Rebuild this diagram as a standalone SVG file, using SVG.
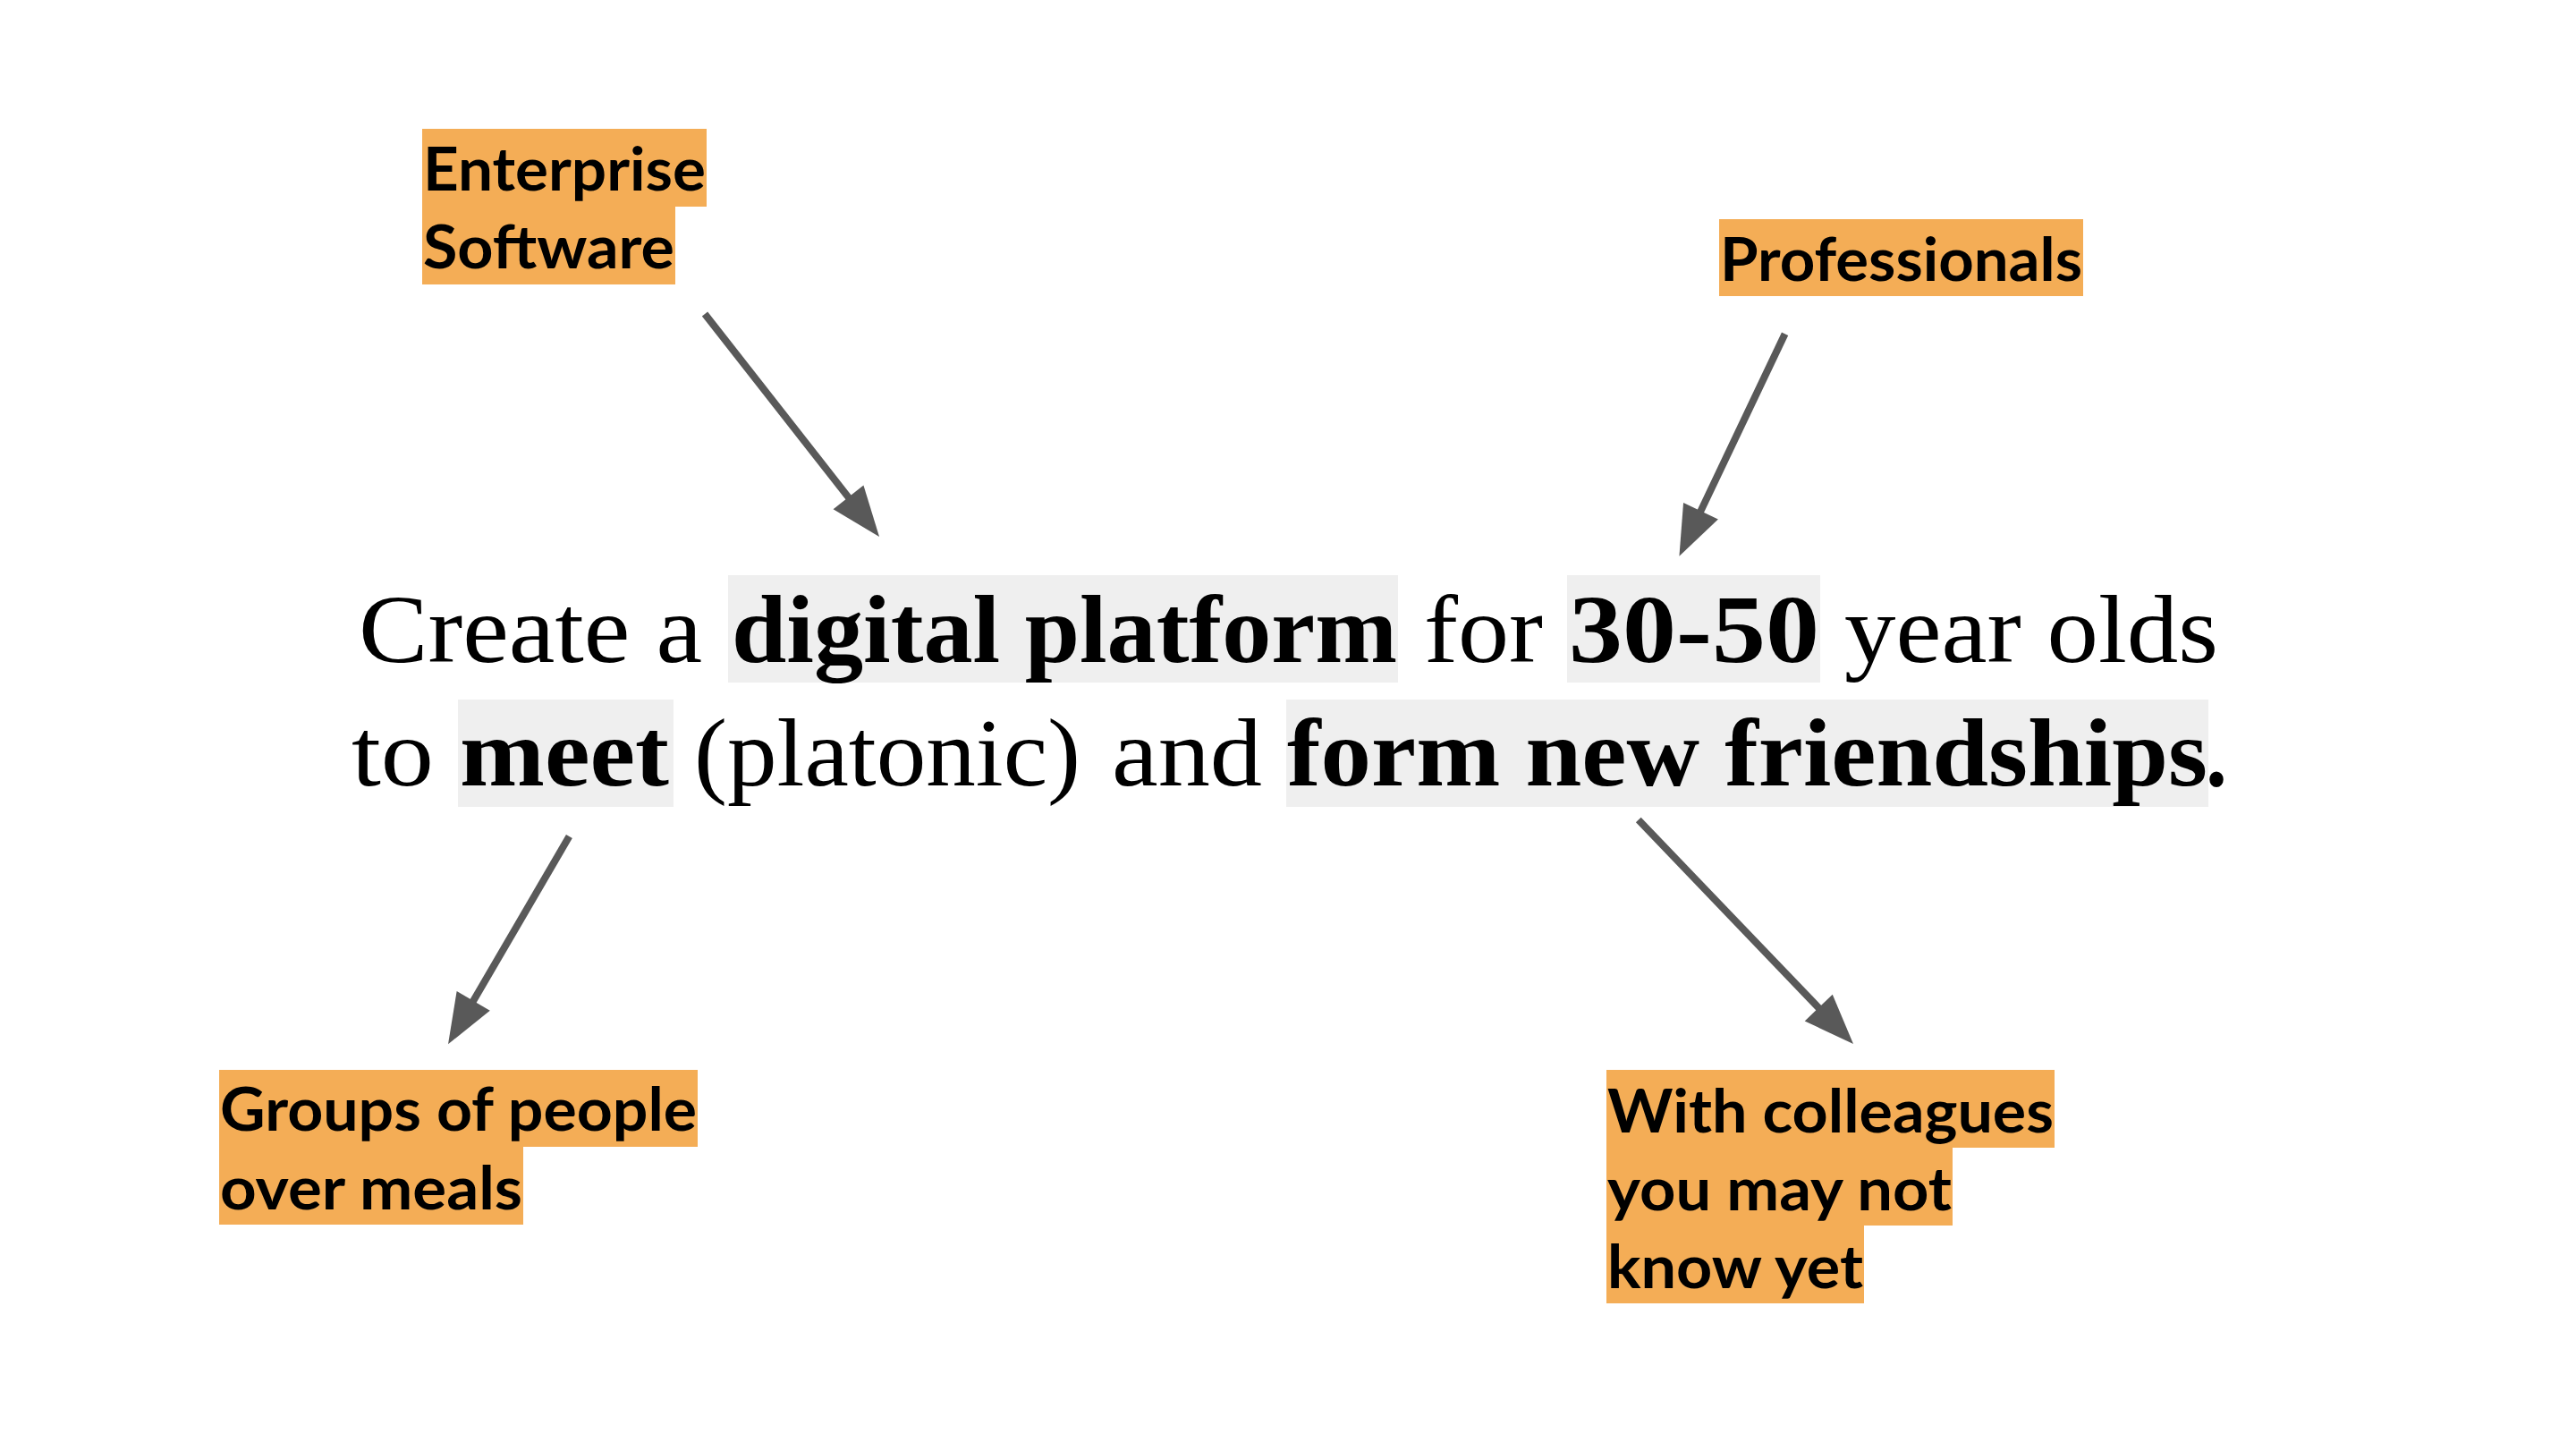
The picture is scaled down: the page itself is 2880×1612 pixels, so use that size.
<svg xmlns="http://www.w3.org/2000/svg" width="2880" height="1612" viewBox="0 0 2880 1612">
<style>
.bg{fill:#ffffff}
.hl{fill:#efefef}
.tag{fill:#f4ad56}
.main{font-family:"Liberation Serif","Times New Roman",serif;font-size:108px;fill:#000}
.b{font-weight:bold}
.lbl{font-family:Lato,"Open Sans","Liberation Sans",sans-serif;font-weight:bold;font-size:66px;fill:#000}
.arrow{stroke:#595959;stroke-width:8;fill:none;marker-end:url(#head)}
</style>
<defs>
<marker id="head" markerUnits="userSpaceOnUse" markerWidth="60" markerHeight="46" viewBox="0 -23 56 46" refX="6" refY="0" orient="auto">
<path d="M0,-21.5 L56,0 L0,21.5 Z" fill="#595959"/>
</marker>
</defs>
<rect class="bg" x="0" y="0" width="2880" height="1612"/>

<g id="statement">
<rect class="hl" x="814" y="643" width="749" height="120"/>
<rect class="hl" x="1752" y="643" width="283" height="120"/>
<rect class="hl" x="512" y="782" width="241" height="120"/>
<rect class="hl" x="1438" y="782" width="1031" height="120"/>
<text class="main" x="401" y="740" textLength="384" lengthAdjust="spacingAndGlyphs">Create a</text>
<text class="main b" x="818" y="740" textLength="744" lengthAdjust="spacingAndGlyphs">digital platform</text>
<text class="main" x="1592" y="740" textLength="133" lengthAdjust="spacingAndGlyphs">for</text>
<text class="main b" x="1754" y="740" textLength="280" lengthAdjust="spacingAndGlyphs">30-50</text>
<text class="main" x="2062" y="740" textLength="418" lengthAdjust="spacingAndGlyphs">year olds</text>
<text class="main" x="393" y="878" textLength="92" lengthAdjust="spacingAndGlyphs">to</text>
<text class="main b" x="514" y="878" textLength="234" lengthAdjust="spacingAndGlyphs">meet</text>
<text class="main" x="776" y="878" textLength="432" lengthAdjust="spacingAndGlyphs">(platonic)</text>
<text class="main" x="1243" y="878" textLength="168" lengthAdjust="spacingAndGlyphs">and</text>
<text class="main b" x="1439" y="878" textLength="1029" lengthAdjust="spacingAndGlyphs">form new friendships</text>
<text class="main b" x="2466" y="878" textLength="24" lengthAdjust="spacingAndGlyphs">.</text>
</g>

<g id="enterprise-software">
<rect class="tag" x="472" y="144" width="318" height="87"/>
<rect class="tag" x="472" y="231" width="283" height="87"/>
<text class="lbl" x="473" y="213" textLength="316" lengthAdjust="spacingAndGlyphs">Enterprise</text>
<text class="lbl" x="473" y="300" textLength="281" lengthAdjust="spacingAndGlyphs">Software</text>
</g>

<g id="professionals">
<rect class="tag" x="1922" y="245" width="407" height="86"/>
<text class="lbl" x="1923" y="314" textLength="405" lengthAdjust="spacingAndGlyphs">Professionals</text>
</g>

<g id="groups">
<rect class="tag" x="245" y="1196" width="535" height="86"/>
<rect class="tag" x="245" y="1282" width="340" height="87"/>
<text class="lbl" x="246" y="1264" textLength="533" lengthAdjust="spacingAndGlyphs">Groups of people</text>
<text class="lbl" x="246" y="1352" textLength="338" lengthAdjust="spacingAndGlyphs">over meals</text>
</g>

<g id="colleagues">
<rect class="tag" x="1796" y="1196" width="501" height="87"/>
<rect class="tag" x="1796" y="1283" width="387" height="87"/>
<rect class="tag" x="1796" y="1370" width="288" height="87"/>
<text class="lbl" x="1797" y="1266" textLength="499" lengthAdjust="spacingAndGlyphs">With colleagues</text>
<text class="lbl" x="1797" y="1353" textLength="385" lengthAdjust="spacingAndGlyphs">you may not</text>
<text class="lbl" x="1797" y="1440" textLength="286" lengthAdjust="spacingAndGlyphs">know yet</text>
</g>

<g id="connectors">
<line class="arrow" x1="788" y1="351" x2="952.2" y2="560.6"/>
<line class="arrow" x1="1995.6" y1="373.3" x2="1898.9" y2="576.6"/>
<line class="arrow" x1="636.4" y1="935" x2="526.2" y2="1124.1"/>
<line class="arrow" x1="1831.8" y1="916.6" x2="2037.4" y2="1130.9"/>
</g>
</svg>
